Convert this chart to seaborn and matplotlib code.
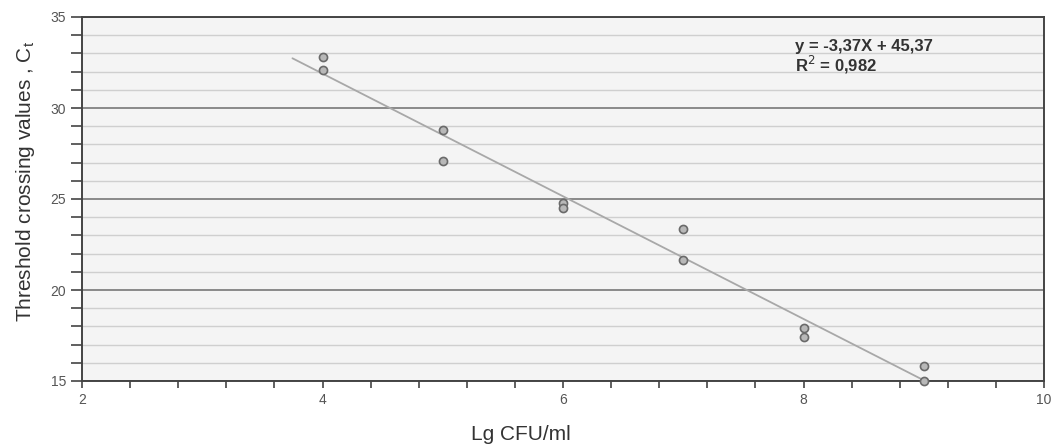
import numpy as np
import pandas as pd
import seaborn as sns
from matplotlib import pyplot as plt
from matplotlib.ticker import MultipleLocator

# data
lg_cfu = [4, 4, 5, 5, 6, 6, 7, 7, 8, 8, 9, 9]
ct_vals = [32.8, 32.1, 28.8, 27.1, 24.8, 24.5, 23.35, 21.65, 17.9, 17.4, 15.8, 15.0]
slope = -3.37
intercept = 45.37
fit_range = [3.75, 9.0]
eq_text = "y = -3,37X + 45,37\nR$^2$ = 0,982"

df = pd.DataFrame({'lg': lg_cfu, 'ct': ct_vals})

sns.set_style('white')
plt.rcParams['font.family'] = ['Liberation Sans', 'DejaVu Sans']

fig = plt.figure(figsize=(10.51, 4.46), dpi=100)
ax = fig.add_axes([82 / 1051, 1 - 381 / 446, (1044 - 82) / 1051, (381 - 17) / 446])
ax.set_facecolor('#f4f4f4')

# regression line
xs = np.array(fit_range)
sns.lineplot(x=xs, y=slope * xs + intercept, ax=ax, color='#a8a8a8', lw=1.3, zorder=3)

sns.scatterplot(data=df, x='lg', y='ct', ax=ax, marker='o', s=34,
                facecolor='#b8b8b8', edgecolor='#6a6a6a', linewidth=1.2, zorder=4)
for coll in ax.collections:
    coll.set_clip_on(False)

ax.set_xlim(2, 10)
ax.set_ylim(15, 35)
ax.xaxis.set_major_locator(MultipleLocator(2))
ax.xaxis.set_minor_locator(MultipleLocator(0.4))
ax.yaxis.set_major_locator(MultipleLocator(5))
ax.yaxis.set_minor_locator(MultipleLocator(1))

ax.grid(which='minor', axis='y', color='#cfcfcf', lw=1.0)
ax.grid(which='major', axis='y', color='#8a8a8a', lw=1.4)
ax.set_axisbelow(True)

ax.tick_params(axis='both', which='both', direction='out', color='#444', width=1.2,
               bottom=True, left=True, top=False, right=False)
ax.tick_params(axis='y', which='both', length=8)
ax.tick_params(axis='x', which='both', length=5)
ax.tick_params(axis='both', labelsize=10, labelcolor='#555')
for lab in ax.get_xticklabels() + ax.get_yticklabels():
    lab.set_family(['Liberation Sans Narrow', 'Liberation Sans'])

for side in ['left', 'bottom', 'top', 'right']:
    ax.spines[side].set_visible(True)
    ax.spines[side].set_color('#444')
    ax.spines[side].set_linewidth(1.4)

ax.set_xlabel('Lg CFU/ml', fontsize=15, color='#333')
ax.xaxis.set_label_coords(0.456, -0.12)
ax.set_ylabel('Threshold crossing values , C$_\\mathregular{t}$', fontsize=15, color='#333')
ax.yaxis.set_label_coords(-0.047, 0.547)

ax.text(0.741, 0.94, eq_text, transform=ax.transAxes, fontsize=12,
        fontweight='bold', color='#333', va='top', linespacing=1.0)

fig.savefig('out.png', dpi=100)
